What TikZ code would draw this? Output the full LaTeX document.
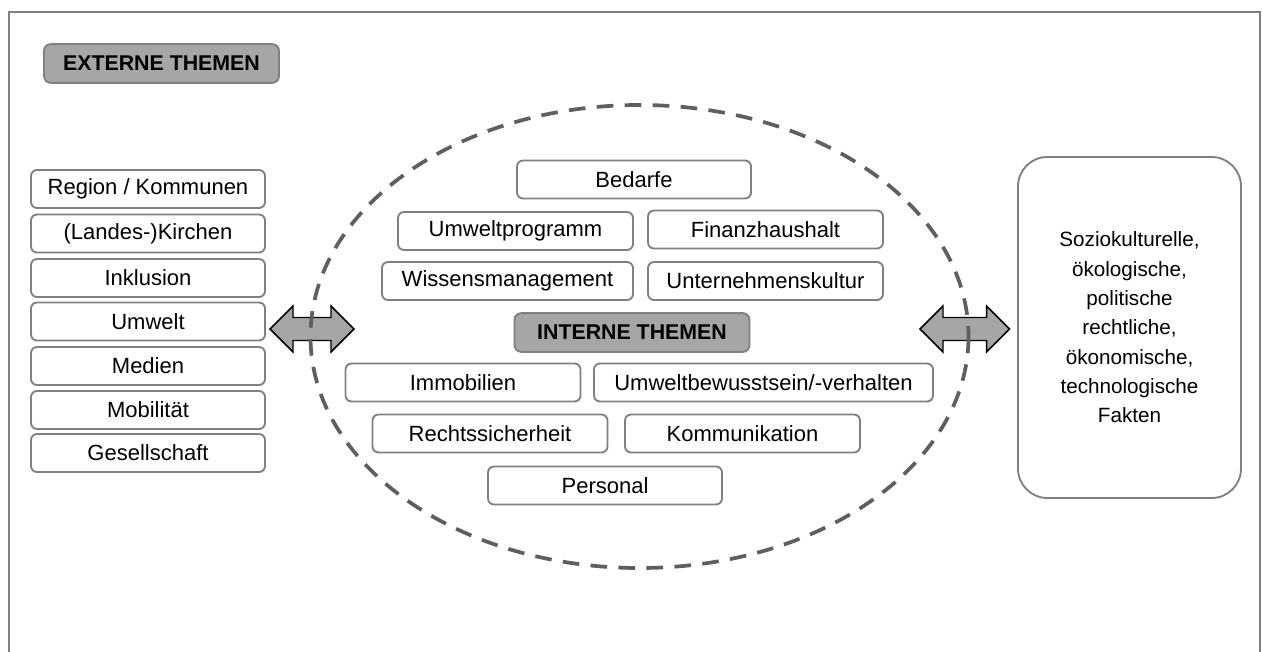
\documentclass[tikz,border=0pt]{standalone}
\usepackage{fontspec}
\setmainfont{Liberation Sans}
\usetikzlibrary{calc}
\definecolor{framegray}{HTML}{808080}
\definecolor{labelfill}{HTML}{A6A6A6}
\definecolor{dashgray}{HTML}{5F5F5F}
\begin{document}
\begin{tikzpicture}[x=0.75pt,y=-0.75pt,
  font=\fontsize{16.5}{19}\selectfont,
  themebox/.style={draw=framegray, line width=1.4pt, rounded corners=4.5pt, fill=white,
    minimum height=28.5pt, inner sep=0pt, minimum width=#1},
  themebox/.default=176pt,
  labelbox/.style={draw=framegray, line width=1.4pt, rounded corners=5pt, fill=labelfill,
    minimum height=29pt, inner sep=0pt, minimum width=176.25pt,
    font=\fontsize{16}{18}\selectfont\bfseries},
  factbox/.style={draw=framegray, line width=1.4pt, rounded corners=22pt, fill=white,
    minimum width=167.25pt, minimum height=255.75pt, inner sep=0pt, align=center,
    font=\fontsize{15.5}{22}\selectfont},
  blockarrow/.style={fill=labelfill, draw=black, line width=1.1pt, line join=miter},
  frameline/.style={draw=framegray, line width=1.5pt},
  dashring/.style={draw=dashgray, line width=2.8pt, dash pattern=on 12.5pt off 8.5pt}
]
\useasboundingbox (0,0) rectangle (1262,652);
\draw[frameline] (9,652) -- (9,12) -- (1260,12) -- (1260,652);

% external label
\node[labelbox] (ext) at (161.5,63.5) {EXTERNE THEMEN};

% left column
\node[themebox=175.5pt] (e1) at (148,189) {Region / Kommunen};
\node[themebox=175.5pt] (e2) at (148,233.5) {(Landes-)Kirchen};
\node[themebox=175.5pt] (e3) at (148,278) {Inklusion};
\node[themebox=175.5pt] (e4) at (148,321.5) {Umwelt};
\node[themebox=175.5pt] (e5) at (148,366) {Medien};
\node[themebox=175.5pt] (e6) at (148,410) {Mobilität};
\node[themebox=175.5pt] (e7) at (148,453) {Gesellschaft};

% right box
\node[factbox] (facts) at (1129.5,327.5) {Soziokulturelle,\\ökologische,\\politische\\rechtliche,\\ökonomische,\\technologische\\Fakten};

% block arrows
\coordinate (la) at (270,329);
\coordinate (lb) at (354,329);
\coordinate (ra) at (920,329);
\coordinate (rb) at (1009.5,329);
\foreach \a/\b in {la/lb, ra/rb}{
  \draw[blockarrow] (\a) -- ($(\a)+(23,-23)$) -- ($(\a)+(23,-11.5)$) -- ($(\b)+(-23,-11.5)$)
    -- ($(\b)+(-23,-23)$) -- (\b) -- ($(\b)+(-23,23)$) -- ($(\b)+(-23,11.5)$)
    -- ($(\a)+(23,11.5)$) -- ($(\a)+(23,23)$) -- cycle;
}

% dashed ellipse
\draw[dashring] (639.5,336.5) ellipse [x radius=329, y radius=231.5];

% internal topics
\node[themebox=175.5pt] (i1) at (634,179.5) {Bedarfe};
\node[themebox=176.25pt] (i2) at (515.5,231) {Umweltprogramm};
\node[themebox=176.25pt] (i3) at (765.5,229.5) {Finanzhaushalt};
\node[themebox=188.25pt] (i4) at (507.5,281) {Wissensmanagement};
\node[themebox=176.25pt] (i5) at (765.5,281) {Unternehmenskultur};
\node[labelbox] (int) at (632,332.5) {INTERNE THEMEN};
\node[themebox=176.25pt] (i6) at (463,382.5) {Immobilien};
\node[themebox=254.25pt] (i7) at (763.5,382.5) {Umweltbewusstsein/-verhalten};
\node[themebox=176.25pt] (i8) at (490,433.5) {Rechtssicherheit};
\node[themebox=176.25pt] (i9) at (742.5,433.5) {Kommunikation};
\node[themebox=175.5pt] (i10) at (605,485.5) {Personal};
\end{tikzpicture}
\end{document}
